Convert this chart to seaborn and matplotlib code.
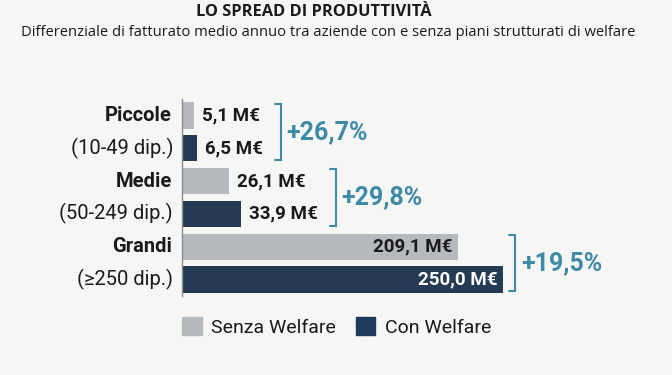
import numpy as np
import pandas as pd
import matplotlib.pyplot as plt
import seaborn as sns
from matplotlib.patches import Patch

# dati
categorie = ['Piccole', 'Medie', 'Grandi']
dipendenti = ['(10-49 dip.)', '(50-249 dip.)', '(≥250 dip.)']
tipi = ['Senza Welfare', 'Con Welfare']
senza_welfare = [5.1, 26.1, 209.1]
con_welfare = [6.5, 33.9, 250.0]
spread = ['+26,7%', '+29,8%', '+19,5%']

GRIGIO = '#b5babf'
BLU = '#1d3a5c'
TEAL = '#3f8aa6'
SFONDO = '#f6f6f4'
TESTO = '#1a1a1a'
FONT = ['Roboto', 'DejaVu Sans']

df = pd.DataFrame({
    'Dimensione': categorie * 2,
    'Tipo': [tipi[0]] * 3 + [tipi[1]] * 3,
    'Fatturato': senza_welfare + con_welfare,
})

sns.set_theme(style='white')
plt.rcParams['font.family'] = FONT

fig = plt.figure(figsize=(6.72, 3.75), dpi=100, facecolor=SFONDO)
ax = fig.add_axes([0.271, 0.211, 0.70, 0.525])
ax.set_facecolor(SFONDO)

sns.barplot(data=df, y='Dimensione', x='Fatturato', hue='Tipo', order=categorie,
            hue_order=tipi, palette=[GRIGIO, BLU], orient='h', width=1.0, gap=0.2,
            linewidth=0, errorbar=None, legend=False, ax=ax)

# scala compressa (le barre piccole restano visibili)
p = 0.85
fwd = lambda x: np.sign(x) * np.abs(x) ** p
inv = lambda y: np.sign(y) * np.abs(y) ** (1 / p)
ax.set_xscale('function', functions=(fwd, inv))
ax_w = 0.70 * 672
ax.set_xlim(0, inv(fwd(max(con_welfare)) * ax_w / 321))
ax.set_ylim(2.5, -0.5)
ax.set(xlabel='', ylabel='')
ax.set_xticks([])
ax.set_yticks([])
sns.despine(ax=ax, bottom=True)
ax.spines['left'].set_color('#8a8a8a')
ax.spines['left'].set_linewidth(1)

# etichette categorie
for i, (cat, dip) in enumerate(zip(categorie, dipendenti)):
    ax.annotate(cat, (0, i - 0.25), xycoords=('axes fraction', 'data'), xytext=(-10, 0),
                textcoords='offset pixels', ha='right', va='center', fontsize=14.5,
                fontweight='bold', color=TESTO)
    ax.annotate(dip, (0, i + 0.25), xycoords=('axes fraction', 'data'), xytext=(-9, 0),
                textcoords='offset pixels', ha='right', va='center', fontsize=14.5,
                color=TESTO)

# etichette valori
etichette = {i: [] for i in range(len(categorie))}
for bar in ax.patches:
    w = bar.get_width()
    yc = bar.get_y() + bar.get_height() / 2
    cat = int(round(yc))
    senza = yc < round(yc)
    txt = f"{w:.1f}".replace('.', ',') + ' M€'
    if w > 100:
        t = ax.annotate(txt, (w, yc), xytext=(-5, 0), textcoords='offset pixels',
                        ha='right', va='center', fontsize=13.5, fontweight='bold',
                        color=TESTO if senza else 'white')
    else:
        t = ax.annotate(txt, (w, yc), xytext=(8, 0), textcoords='offset pixels',
                        ha='left', va='center', fontsize=13.5, fontweight='bold',
                        color=TESTO)
    etichette[cat].append((t, bar, w > 100))

# parentesi e percentuali
fig.canvas.draw()
renderer = fig.canvas.get_renderer()
inv_t = ax.transData.inverted()
for i, items in etichette.items():
    xb = 0
    for t, bar, dentro in items:
        xb = max(xb, bar.get_window_extent(renderer).x1 + 12)
        if not dentro:
            xb = max(xb, t.get_window_extent(renderer).x1 + 18)
    x_r = inv_t.transform((xb, 0))[0]
    x_l = inv_t.transform((xb - 6, 0))[0]
    top, bot = i - 0.43, i + 0.43
    ax.plot([x_l, x_r, x_r, x_l], [top, top, bot, bot], color=TEAL, lw=1.5,
            clip_on=False, solid_joinstyle='miter')
    ax.annotate(spread[i], (x_r, i), xytext=(6, 0), textcoords='offset pixels',
                ha='left', va='center', fontsize=18, fontweight='bold', color=TEAL)

# legenda
fig.legend(handles=[Patch(color=GRIGIO), Patch(color=BLU)], labels=tipi,
           loc='center left', bbox_to_anchor=(0.245, 0.128), ncol=2, frameon=False,
           fontsize=14, handlelength=1.0, handleheight=1.0, handletextpad=0.5,
           columnspacing=1.0, labelcolor=TESTO)

# titoli
fig.text(0.467, 0.968, 'LO SPREAD DI PRODUTTIVITÀ', ha='center', va='center',
         fontsize=11.8, fontweight='bold', family='Open Sans', color=TESTO)
fig.text(0.488, 0.913,
         'Differenziale di fatturato medio annuo tra aziende con e senza piani strutturati di welfare',
         ha='center', va='center', fontsize=10.6, family='Open Sans', color=TESTO)

fig.savefig('out.png', dpi=100, facecolor=SFONDO)
